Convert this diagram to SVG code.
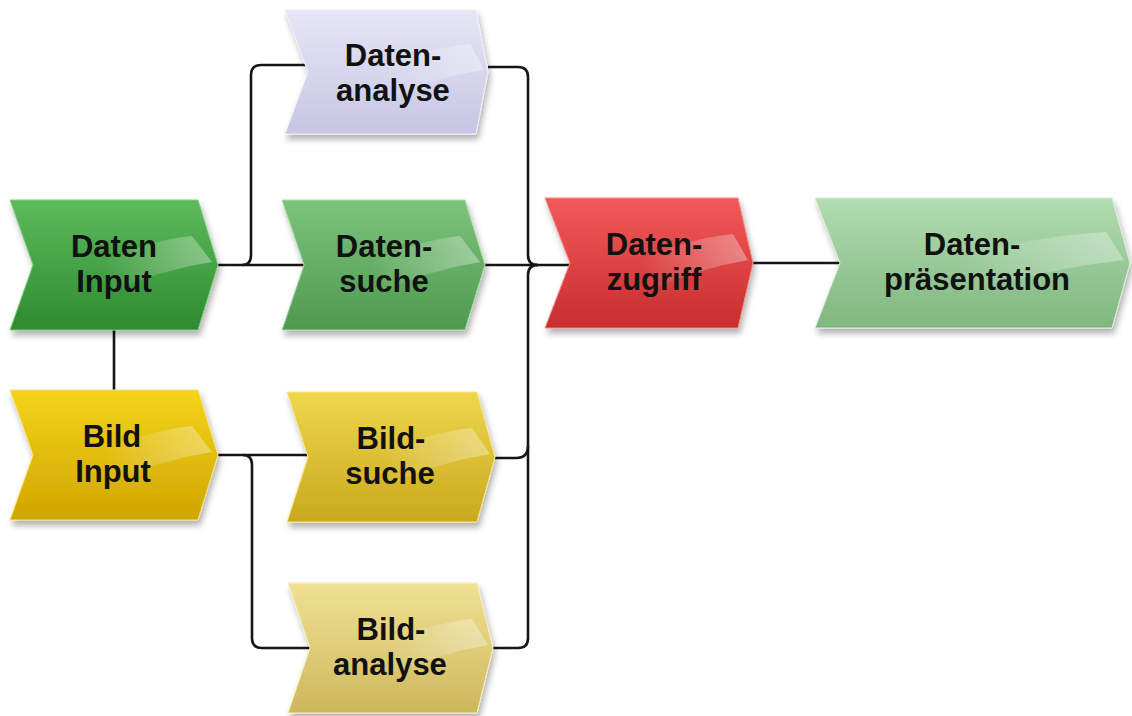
<svg xmlns="http://www.w3.org/2000/svg" width="1132" height="716" viewBox="0 0 1132 716">
<defs>
<style>
.conn{fill:none;stroke:#151515;stroke-width:2.6;stroke-linejoin:round}
.lbl{font-family:"Liberation Sans",Arial,sans-serif;font-weight:bold;font-size:31px;fill:#111;text-anchor:middle}
.shape{filter:url(#sh)}
.gloss{fill:url(#gl)}
</style>
<filter id="sh" x="-10%" y="-10%" width="125%" height="130%">
<feDropShadow dx="2" dy="5" stdDeviation="3" flood-color="#000" flood-opacity="0.3"/>
</filter>
<linearGradient id="gl" x1="0" y1="0" x2="1" y2="0">
<stop offset="0" stop-color="#fff" stop-opacity="0"/>
<stop offset="0.7" stop-color="#fff" stop-opacity="0.25"/>
<stop offset="1" stop-color="#fff" stop-opacity="0.35"/>
</linearGradient>
<linearGradient id="gDI" x1="0" y1="0" x2="0" y2="1"><stop offset="0" stop-color="#5cbb5c"/><stop offset="1" stop-color="#2f8a30"/></linearGradient>
<linearGradient id="gDA" x1="0" y1="0" x2="0" y2="1"><stop offset="0" stop-color="#e6e6f6"/><stop offset="1" stop-color="#c6c6e4"/></linearGradient>
<linearGradient id="gDS" x1="0" y1="0" x2="0" y2="1"><stop offset="0" stop-color="#7cc47c"/><stop offset="1" stop-color="#4f9850"/></linearGradient>
<linearGradient id="gDZ" x1="0" y1="0" x2="0" y2="1"><stop offset="0" stop-color="#f25a5a"/><stop offset="1" stop-color="#c82d2d"/></linearGradient>
<linearGradient id="gDP" x1="0" y1="0" x2="0" y2="1"><stop offset="0" stop-color="#b2dcb2"/><stop offset="1" stop-color="#7fb67f"/></linearGradient>
<linearGradient id="gBI" x1="0" y1="0" x2="0" y2="1"><stop offset="0" stop-color="#f4d41a"/><stop offset="1" stop-color="#cfa600"/></linearGradient>
<linearGradient id="gBS" x1="0" y1="0" x2="0" y2="1"><stop offset="0" stop-color="#efd64c"/><stop offset="1" stop-color="#c9a91e"/></linearGradient>
<linearGradient id="gBA" x1="0" y1="0" x2="0" y2="1"><stop offset="0" stop-color="#f0e294"/><stop offset="1" stop-color="#cdb75c"/></linearGradient>
</defs>
<rect width="1132" height="716" fill="#fff"/>

<g id="connectors">
<path class="conn" d="M218,265 H304"/>
<path class="conn" d="M242,265 Q251,265 251,255 V75 Q251,65 261,65 H308"/>
<path class="conn" d="M488,67 H518 Q528,67 528,77 V255 Q528,265 538,265"/>
<path class="conn" d="M485,265 H570"/>
<path class="conn" d="M538,265 Q528,265 528,275 V638 Q528,648 518,648 H493"/>
<path class="conn" d="M495,458 H516 Q528,458 528,446"/>
<path class="conn" d="M114,330 V390"/>
<path class="conn" d="M218,455 H308"/>
<path class="conn" d="M243,455 Q252,455 252,465 V638 Q252,648 262,648 H310"/>
<path class="conn" d="M753,263 H840"/>
</g>

<g id="daten-input">
<polygon class="shape" points="10,200 198,200 218,265 198,330 10,330 33,265" fill="url(#gDI)" stroke="#7fcf7f" stroke-width="1"/>
<path class="gloss" d="M100,262 Q150,240 192,236 L212,262 Q160,270 110,292 Z"/>
<text class="lbl" x="114" y="257">Daten</text>
<text class="lbl" x="114" y="292">Input</text>
</g>

<g id="daten-analyse">
<polygon class="shape" points="285,10 476,10 488,72 476,134 285,134 308,72" fill="url(#gDA)" stroke="#f0f0fa" stroke-width="1"/>
<path class="gloss" d="M375,70 Q425,48 470,44 L484,70 Q432,78 385,100 Z"/>
<text class="lbl" x="393" y="66">Daten-</text>
<text class="lbl" x="393" y="101">analyse</text>
</g>

<g id="daten-suche">
<polygon class="shape" points="282,200 465,200 485,265 465,330 282,330 304,265" fill="url(#gDS)" stroke="#a8dca8" stroke-width="1"/>
<path class="gloss" d="M370,262 Q420,240 460,236 L480,262 Q430,270 380,292 Z"/>
<text class="lbl" x="384" y="257">Daten-</text>
<text class="lbl" x="384" y="292">suche</text>
</g>

<g id="daten-zugriff">
<polygon class="shape" points="545,198 738,198 753,263 738,328 545,328 570,263" fill="url(#gDZ)" stroke="#f78a8a" stroke-width="1"/>
<path class="gloss" d="M640,260 Q690,238 733,234 L748,260 Q700,268 650,290 Z"/>
<text class="lbl" x="654" y="255">Daten-</text>
<text class="lbl" x="654" y="290">zugriff</text>
</g>

<g id="daten-praesentation">
<polygon class="shape" points="815,198 1112,198 1130,263 1112,328 815,328 840,263" fill="url(#gDP)" stroke="#d6eed6" stroke-width="1"/>
<path class="gloss" d="M955,260 Q1030,236 1106,232 L1124,260 Q1040,270 970,292 Z"/>
<text class="lbl" x="972" y="255">Daten-</text>
<text class="lbl" x="977" y="290">präsentation</text>
</g>

<g id="bild-input">
<polygon class="shape" points="10,390 198,390 218,455 198,520 10,520 33,455" fill="url(#gBI)" stroke="#f8e27a" stroke-width="1"/>
<path class="gloss" d="M100,452 Q150,430 192,426 L212,452 Q160,460 110,482 Z"/>
<text class="lbl" x="112" y="447">Bild</text>
<text class="lbl" x="113" y="482">Input</text>
</g>

<g id="bild-suche">
<polygon class="shape" points="287,392 477,392 495,457 477,522 287,522 308,457" fill="url(#gBS)" stroke="#f6e690" stroke-width="1"/>
<path class="gloss" d="M380,454 Q430,432 472,428 L490,454 Q440,462 390,484 Z"/>
<text class="lbl" x="391" y="449">Bild-</text>
<text class="lbl" x="390" y="484">suche</text>
</g>

<g id="bild-analyse">
<polygon class="shape" points="288,583 477,583 493,648 477,713 288,713 310,648" fill="url(#gBA)" stroke="#f7eec0" stroke-width="1"/>
<path class="gloss" d="M380,645 Q430,623 472,619 L488,645 Q440,653 390,675 Z"/>
<text class="lbl" x="391" y="640">Bild-</text>
<text class="lbl" x="390" y="675">analyse</text>
</g>
</svg>
